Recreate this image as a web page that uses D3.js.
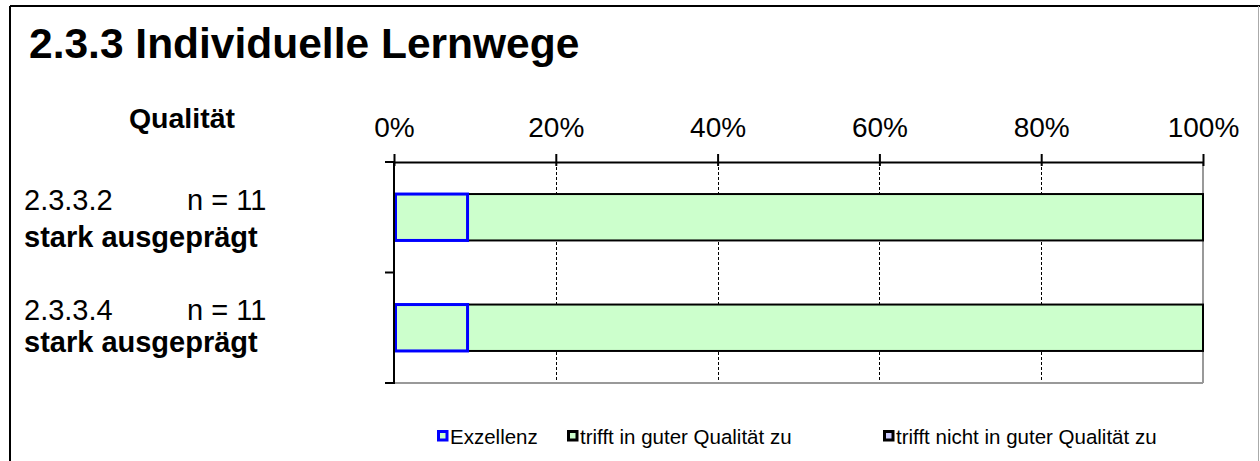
<!DOCTYPE html>
<html>
<head>
<meta charset="utf-8">
<script src="https://cdn.jsdelivr.net/npm/d3@7"></script>
<style>
  body { margin: 0; background: #fff; }
  text { font-family: "Liberation Sans", Arial, sans-serif; }
</style>
</head>
<body>
<div id="chart"></div>
<script>
// data
const items = ["2.3.3.2", "2.3.3.4"];
const counts = [11, 11];
const levels = ["stark ausgeprägt", "stark ausgeprägt"];
const excellenz = [1 / 11, 1 / 11];
const guteQualitaet = [10 / 11, 10 / 11];
const nichtGut = [0, 0];
const tickValues = [0, 0.2, 0.4, 0.6, 0.8, 1];
const seriesNames = ["Exzellenz", "trifft in guter Qualität zu", "trifft nicht in guter Qualität zu"];

const W = 1260, H = 461;
const svg = d3.select("#chart").append("svg").attr("width", W).attr("height", H);

// frame
svg.append("line").attr("x1", 10).attr("x2", 10).attr("y1", 6).attr("y2", H).attr("stroke", "#000").attr("stroke-width", 2);
svg.append("line").attr("x1", 10).attr("x2", W).attr("y1", 6).attr("y2", 6).attr("stroke", "#000").attr("stroke-width", 2);
svg.append("line").attr("x1", 1258.5).attr("x2", 1258.5).attr("y1", 6).attr("y2", H).attr("stroke", "#aaa").attr("stroke-width", 1);

svg.append("text").attr("x", 29).attr("y", 58).attr("font-size", 42.5).attr("font-weight", "bold").text("2.3.3 Individuelle Lernwege");
svg.append("text").attr("x", 182).attr("y", 128).attr("font-size", 28.5).attr("font-weight", "bold").attr("text-anchor", "middle").text("Qualität");

const margin = { left: 394, right: 1203, top: 162, bottom: 383 };
const x = d3.scaleLinear().domain([0, 1]).range([margin.left, margin.right]);
const y = d3.scaleBand().domain(items).range([margin.top, margin.bottom]).paddingInner(0.58).paddingOuter(0.29);

const g = svg.append("g");

// grid
g.selectAll(".grid").data(tickValues.slice(1, -1)).enter().append("line")
  .attr("x1", d => Math.round(x(d)) + 0.5).attr("x2", d => Math.round(x(d)) + 0.5)
  .attr("y1", margin.top).attr("y2", margin.bottom)
  .attr("stroke", "#000").attr("stroke-width", 1).attr("stroke-dasharray", "3,2");

// plot border right/bottom gray
g.append("line").attr("x1", margin.left).attr("x2", margin.right).attr("y1", margin.bottom).attr("y2", margin.bottom).attr("stroke", "#999").attr("stroke-width", 2);
g.append("line").attr("x1", margin.right).attr("x2", margin.right).attr("y1", margin.top).attr("y2", margin.bottom).attr("stroke", "#999").attr("stroke-width", 2);

// top axis
const xAxis = d3.axisTop(x).tickValues(tickValues).tickFormat(d3.format(".0%")).tickSize(8).tickSizeOuter(0);
const ax = svg.append("g").attr("transform", `translate(0,${margin.top})`).call(xAxis);
ax.select(".domain").attr("stroke-width", 2);
ax.selectAll(".tick line").attr("stroke-width", 2).attr("y2", 4).attr("y1", -8);
ax.selectAll(".tick text").attr("font-size", 28).attr("fill", "#000").attr("font-family", "Liberation Sans, Arial, sans-serif")
  .attr("y", -25).attr("dy", 0);

// left axis
const yTicks = [margin.top, (margin.top + margin.bottom) / 2, margin.bottom];
svg.append("line").attr("x1", margin.left).attr("x2", margin.left).attr("y1", margin.top).attr("y2", margin.bottom + 1).attr("stroke", "#000").attr("stroke-width", 2);
svg.selectAll(".ytick").data(yTicks).enter().append("line")
  .attr("x1", margin.left - 9).attr("x2", margin.left).attr("y1", d => d).attr("y2", d => d)
  .attr("stroke", "#000").attr("stroke-width", 2);

// bars
const rows = items.map((it, i) => ({ it, vals: [excellenz[i], guteQualitaet[i], nichtGut[i]] }));
const styles = [
  { fill: "#ccffcc", stroke: "#0000ff", sw: 3 },
  { fill: "#ccffcc", stroke: "#000", sw: 2 },
  { fill: "#ccccff", stroke: "#000", sw: 2 }
];
rows.forEach(r => {
  let acc = 0;
  const segs = r.vals.map((v, k) => { const s = { x0: acc, x1: acc + v, k }; acc += v; return s; });
  // green first, excellenz drawn on top
  [1, 2, 0].forEach(k => {
    const s = segs[k];
    if (s.x1 - s.x0 <= 0) return;
    g.append("rect")
      .attr("x", x(s.x0) + (k === 0 ? 1.5 : 0))
      .attr("y", y(r.it))
      .attr("width", x(s.x1) - x(s.x0) - (k === 0 ? 1.5 : 0))
      .attr("height", y.bandwidth())
      .attr("fill", styles[k].fill).attr("stroke", styles[k].stroke).attr("stroke-width", styles[k].sw);
  });
});

// row labels
const numBase = [210, 320], levelBase = [247, 352];
items.forEach((it, i) => {
  svg.append("text").attr("x", 24).attr("y", numBase[i]).attr("font-size", 29).text(it);
  svg.append("text").attr("x", 187).attr("y", numBase[i]).attr("font-size", 29).text("n = " + counts[i]);
  svg.append("text").attr("x", 24).attr("y", levelBase[i]).attr("font-size", 29).attr("font-weight", "bold").text(levels[i]);
});

// legend
const legX = [437, 567, 883];
const legStyle = [
  { fill: "#ccffcc", stroke: "#0000ff" },
  { fill: "#ccffcc", stroke: "#000" },
  { fill: "#ccccff", stroke: "#000" }
];
const leg = svg.selectAll(".leg").data(seriesNames).enter().append("g")
  .attr("transform", (d, i) => `translate(${legX[i]},430)`);
leg.append("rect").attr("x", 1.5).attr("y", 1.5).attr("width", 8.5).attr("height", 8.5)
  .attr("fill", (d, i) => legStyle[i].fill).attr("stroke", (d, i) => legStyle[i].stroke).attr("stroke-width", 3);
leg.append("text").attr("x", 13).attr("y", 14).attr("font-size", 20.5).text(d => d);
</script>
</body>
</html>
